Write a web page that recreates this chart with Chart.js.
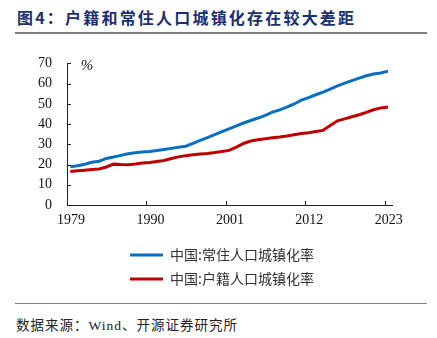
<!DOCTYPE html>
<html><head><meta charset="utf-8">
<script src="https://cdn.jsdelivr.net/npm/chart.js@4"></script>
<style>
html,body{margin:0;padding:0;background:#fff;width:437px;height:338px;overflow:hidden;position:relative}
#title{position:absolute;left:17px;top:5px;font:bold 16px "Noto Sans CJK SC";color:#1d2f6f;letter-spacing:2.2px;white-space:nowrap}
#tline{position:absolute;left:15px;top:32px;width:412px;height:2px;background:#808080}
#fline{position:absolute;left:15px;top:303px;width:412px;height:1px;background:#808080}
#foot{position:absolute;left:16px;top:314px;font:13.5px "Liberation Serif","Noto Sans CJK SC";color:#222;letter-spacing:1px;white-space:nowrap}
#wrap{position:absolute;left:0;top:40px;width:437px;height:260px}
</style></head><body>
<div id="title">图4：户籍和常住人口城镇化存在较大差距</div>
<div id="tline"></div>
<div id="wrap"><canvas id="c" width="437" height="260"></canvas></div>
<div id="fline"></div>
<div id="foot">数据来源：Wind、开源证券研究所</div>
<script>
const years = [1979,1980,1981,1982,1983,1984,1985,1986,1987,1988,1989,1990,1991,1992,1993,1994,1995,1996,1997,1998,1999,2000,2001,2002,2003,2004,2005,2006,2007,2008,2009,2010,2011,2012,2013,2014,2015,2016,2017,2018,2019,2020,2021,2022,2023];
const residentRate = [18.96,19.39,20.16,21.13,21.62,23.01,23.71,24.52,25.32,25.81,26.21,26.41,26.94,27.46,27.99,28.51,29.04,30.48,31.91,33.35,34.78,36.22,37.66,39.09,40.53,41.76,42.99,44.34,45.89,46.99,48.34,49.95,51.83,53.10,54.49,55.75,57.33,58.84,60.24,61.50,62.71,63.89,64.72,65.22,66.16];
const hukouRate = [16.6,16.9,17.2,17.5,17.8,18.8,20.2,20.0,19.9,20.3,20.8,21.0,21.5,22.0,23.0,23.8,24.4,24.8,25.2,25.5,25.9,26.4,27.0,28.6,30.4,31.6,32.3,32.8,33.2,33.6,34.1,34.7,35.3,35.7,36.3,36.9,39.3,41.6,42.6,43.6,44.6,45.8,47.1,48.0,48.5];
const seriesNames = ['中国:常住人口城镇化率','中国:户籍人口城镇化率'];
const xTickYears = [1979,1990,2001,2012,2023];
const yTickValues = [0,10,20,30,40,50,60,70];
const unitLabel = '%';

function makeSet(name, vals, color){
  return {label:name, data: years.map((y,i)=>({x:y+0.45, y:vals[i]})),
    borderColor:color, backgroundColor:color, borderWidth:3, pointRadius:0, tension:0, fill:false};
}

const innerTicks = {
  id:'innerTicks',
  afterDraw(chart){
    const {ctx, chartArea:a, scales:{x,y}} = chart;
    ctx.save();
    ctx.strokeStyle='#222'; ctx.lineWidth=1;
    ctx.beginPath();
    y.ticks.forEach(t=>{const py=Math.round(y.getPixelForValue(t.value))+0.5; ctx.moveTo(a.left,py); ctx.lineTo(a.left+4,py);});
    x.ticks.forEach(t=>{const px=Math.round(x.getPixelForValue(t.value))+0.5; ctx.moveTo(px,a.bottom); ctx.lineTo(px,a.bottom-4);});
    ctx.stroke();
    ctx.font='italic 15px "Liberation Serif"'; ctx.fillStyle='#111'; ctx.textAlign='center'; ctx.textBaseline='middle';
    ctx.fillText(unitLabel, a.left+20, a.top+3);
    ctx.restore();
  }
};

const tickFont = {family:'"Liberation Serif"', size:14};
new Chart(document.getElementById('c'), {
  type:'line',
  data:{datasets:[makeSet(seriesNames[0], residentRate, '#0a6fc2'), makeSet(seriesNames[1], hukouRate, '#c00000')]},
  options:{
    responsive:false, animation:false, devicePixelRatio:1,
    layout:{padding:{left:32,right:25,top:21,bottom:4}},
    scales:{
      x:{type:'linear', min:1979, max:2024,
        afterBuildTicks:s=>{s.ticks = xTickYears.map(v=>({value:v}));},
        afterFit:s=>{s.height=33;},
        grid:{display:false, drawTicks:false},
        border:{display:true, color:'#222', width:1},
        ticks:{padding:7, labelOffset:4, font:tickFont, color:'#111', maxRotation:0, autoSkip:false, callback:v=>String(v)}},
      y:{type:'linear', min:0, max:70,
        afterBuildTicks:s=>{s.ticks = yTickValues.map(v=>({value:v}));},
        afterFit:s=>{s.width=35;},
        grid:{display:false, drawTicks:false},
        border:{display:true, color:'#222', width:1},
        ticks:{padding:15, font:tickFont, color:'#111', callback:v=>String(v)}},
      yRight:{type:'linear', position:'right', display:true,
        afterFit:s=>{s.width=20;},
        grid:{display:false, drawTicks:false}, border:{display:false}, ticks:{display:false}}
    },
    plugins:{
      tooltip:{enabled:false},
      legend:{position:'bottom', align:'center',
        labels:{boxWidth:33, boxHeight:3, padding:10, color:'#333', font:{family:'"Noto Sans CJK SC"', size:14},
          generateLabels:chart=>Chart.defaults.plugins.legend.labels.generateLabels(chart).map(it=>Object.assign(it,{lineWidth:0, strokeStyle:it.fillStyle}))}}
    }
  },
  plugins:[innerTicks]
});
</script>
</body></html>
